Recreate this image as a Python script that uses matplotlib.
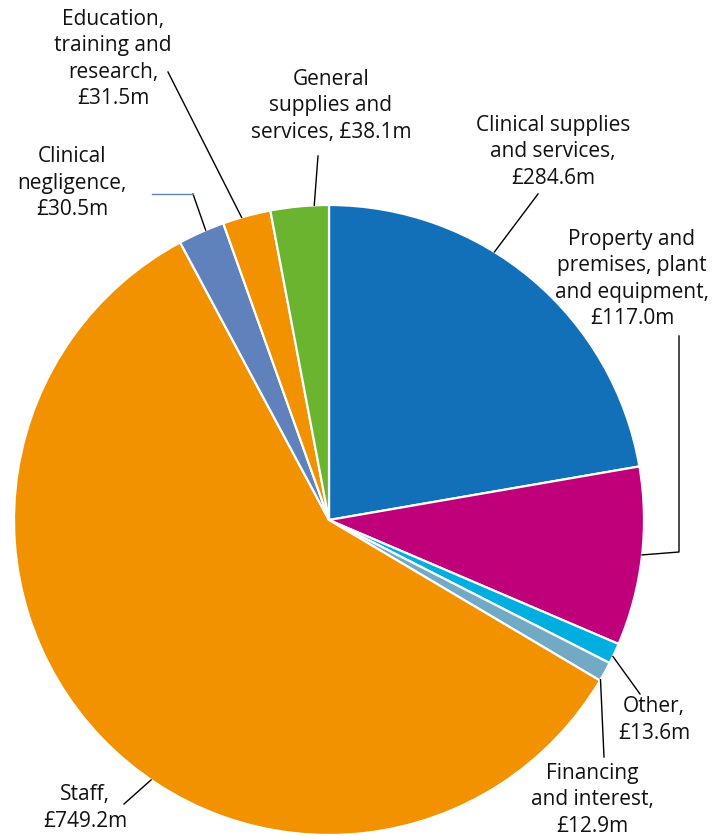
import matplotlib
matplotlib.use("Agg")
import matplotlib.pyplot as plt
import numpy as np

W, H = 726, 837

categories = ["Clinical supplies and services", "Property and premises, plant and equipment",
              "Other", "Financing and interest", "Staff", "Clinical negligence",
              "Education, training and research", "General supplies and services"]
values = [284.6, 117.0, 13.6, 12.9, 749.2, 30.5, 31.5, 38.1]
label_texts = ["Clinical supplies\nand services,\n£284.6m",
               "Property and\npremises, plant\nand equipment,\n£117.0m",
               "Other,\n£13.6m",
               "Financing\nand interest,\n£12.9m",
               "Staff,\n£749.2m",
               "Clinical\nnegligence,\n£30.5m",
               "Education,\ntraining and\nresearch,\n£31.5m",
               "General\nsupplies and\nservices, £38.1m"]
colors = ["#1170b8", "#c0007a", "#00aee0", "#72a9c4", "#f39200", "#5f82bd", "#f39200", "#6ab42f"]

# layout (pixel coords, y from top)
cx, cy, R = 329, 521, 315
label_pos = [(553, 152), (632, 279), (654, 720), (592, 800), (85, 808), (72, 183), (113, 59), (331, 106)]
anchor_frac = [0.395, 0.49, 0.65, 0.95, 0.444, 0.6, 0.395, 0.75]
# leader line paths (extra points after the wedge anchor), pixel coords
leader_pts = [[(538, 195)], [(679, 553), (679, 337)], [(640, 695)], [(604, 758)],
              [(124, 805)], [(193, 195), (152, 195)], [(168, 73)], [(318, 157)]]

plt.rcParams['font.family'] = ['Open Sans', 'DejaVu Sans']
fig = plt.figure(figsize=(W / 100, H / 100), dpi=100)
ax = fig.add_axes([0, 0, 1, 1])

wedges, _ = ax.pie(values, colors=colors, startangle=90, counterclock=False,
                   center=(cx, H - cy), radius=R,
                   wedgeprops=dict(edgecolor='white', linewidth=1.6))
ax.set_xlim(0, W)
ax.set_ylim(0, H)
ax.set_aspect('equal')
ax.axis('off')

for i, w in enumerate(wedges):
    t1, t2 = w.theta1, w.theta2
    ang = np.deg2rad(t2 - anchor_frac[i] * (t2 - t1))
    a_pt = (cx + R * np.cos(ang), H - cy + R * np.sin(ang))
    pts = [a_pt] + [(x, H - y) for x, y in leader_pts[i]]
    xs = [p[0] for p in pts]
    ys = [p[1] for p in pts]
    if i == 5:
        ax.plot(xs[:2], ys[:2], color='black', lw=1)
        ax.plot(xs[1:], ys[1:], color='#5f82bd', lw=1)
    else:
        ax.plot(xs, ys, color='black', lw=1)
    lx, ly = label_pos[i]
    ax.text(lx, H - ly, label_texts[i], ha='center', va='center', fontsize=15,
            linespacing=1.34, color='#111111')

fig.savefig("out.png", dpi=100)
